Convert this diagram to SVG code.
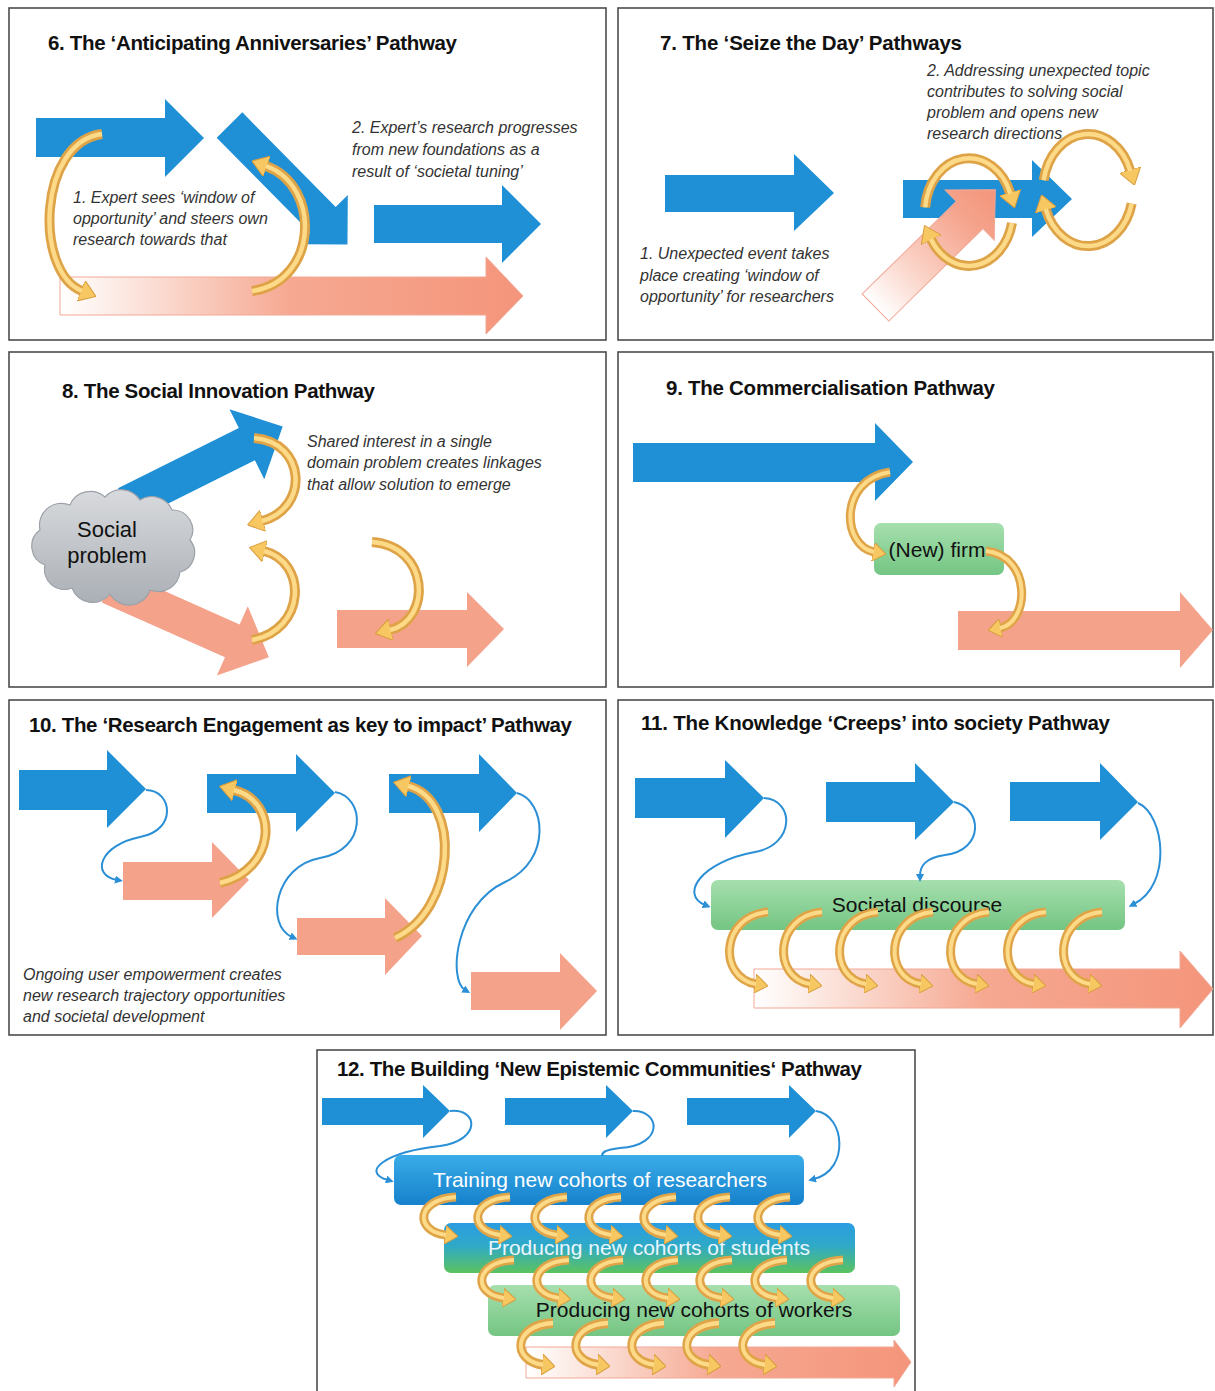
<svg xmlns="http://www.w3.org/2000/svg" width="1215" height="1391" viewBox="0 0 1215 1391">
<defs>
<style>
.panel{fill:#fff;stroke:#4d4d4d;stroke-width:1.6}
.title{font-family:"Liberation Sans",Arial,sans-serif;font-weight:bold;font-size:20.5px;fill:#111}
.note{font-family:"Liberation Sans",Arial,sans-serif;font-style:italic;font-size:16px;fill:#333}
.lbl{font-family:"Liberation Sans",Arial,sans-serif;font-size:21px;fill:#111;text-anchor:middle}
.blue{fill:#1f8fd6}
.salmon{fill:#f5a28b}
.yo{fill:none;stroke:#dfa347;stroke-width:10}
.yi{fill:none;stroke:#fdda88;stroke-width:4.5}
.yos{fill:none;stroke:#e0a448;stroke-width:9}
.yis{fill:none;stroke:#fdda88;stroke-width:4}
.bc{fill:none;stroke:#2b8fd6;stroke-width:2}
</style>
<marker id="yh" viewBox="0 0 16 22" refX="1" refY="11" markerWidth="16" markerHeight="22" markerUnits="userSpaceOnUse" orient="auto"><path d="M0,0 L16,11 L0,22 Z" fill="#f7c862" stroke="#d89c3c" stroke-width="1"/></marker>
<marker id="ys" viewBox="0 0 13 19" refX="1" refY="9.5" markerWidth="13" markerHeight="19" markerUnits="userSpaceOnUse" orient="auto"><path d="M0,0 L13,9.5 L0,19 Z" fill="#f7c862" stroke="#d89c3c" stroke-width="1"/></marker>
<marker id="bh" viewBox="0 0 8 8" refX="2" refY="4" markerWidth="8" markerHeight="8" markerUnits="userSpaceOnUse" orient="auto"><path d="M0,0 L8,4 L0,8 Z" fill="#2b8fd6"/></marker>
<linearGradient id="gSal" x1="0" y1="0" x2="1" y2="0"><stop offset="0" stop-color="#ffffff"/><stop offset="0.12" stop-color="#fcebe5"/><stop offset="0.5" stop-color="#f6a891"/><stop offset="1" stop-color="#f4957b"/></linearGradient>
<linearGradient id="gSal7" x1="0" y1="0" x2="1" y2="0"><stop offset="0" stop-color="#ffffff"/><stop offset="0.3" stop-color="#fbd6cb"/><stop offset="0.75" stop-color="#f5a38c"/><stop offset="1" stop-color="#f4957b"/></linearGradient>
<linearGradient id="gGreen" x1="0" y1="0" x2="0" y2="1"><stop offset="0" stop-color="#a6dfae"/><stop offset="1" stop-color="#74c583"/></linearGradient>
<linearGradient id="gBlue" x1="0" y1="0" x2="0" y2="1"><stop offset="0" stop-color="#3aace8"/><stop offset="1" stop-color="#1681cc"/></linearGradient>
<linearGradient id="gMix" x1="0" y1="0" x2="0" y2="1"><stop offset="0" stop-color="#2a9de2"/><stop offset="0.45" stop-color="#2fa9c8"/><stop offset="1" stop-color="#5bc35e"/></linearGradient>
<linearGradient id="gCloud" x1="0" y1="0" x2="0" y2="1"><stop offset="0" stop-color="#d8dadd"/><stop offset="1" stop-color="#aaafb5"/></linearGradient>
<g id="cA"><path class="yos" d="M0,0 C-40,2 -42,34 -10,38" marker-end="url(#ys)"/><path class="yis" d="M0,0 C-40,2 -42,34 -10,38"/></g>
<g id="cB"><path class="yos" d="M0,0 C-48,4 -50,66 -12,72" marker-end="url(#ys)"/><path class="yis" d="M0,0 C-48,4 -50,66 -12,72"/></g>
</defs>
<rect width="1215" height="1391" fill="#fff"/>

<!-- Panel 6 -->
<g id="panel6">
<rect class="panel" x="9" y="8" width="597" height="332"/>
<text class="title" x="48" y="50" textLength="409">6. The ‘Anticipating Anniversaries’ Pathway</text>
<polygon class="blue" points="36,118 165,118 165,99 204,138 165,177 165,157 36,157"/>
<polygon class="blue" transform="translate(229.5,125) rotate(45.4)" points="0,-18 133,-18 133,-35 168,0 133,35 133,18 0,18"/>
<polygon class="blue" points="374,205 502,205 502,185 541,224 502,263 502,243 374,243"/>
<polygon fill="url(#gSal)" stroke="#f2a896" stroke-width="1" points="60,277 486,277 486,257 523,296 486,334 486,315 60,315"/>
<path class="yo" d="M102,134 C38,142 34,272 82,291" marker-end="url(#yh)"/><path class="yi" d="M102,134 C38,142 34,272 82,291"/>
<path class="yo" d="M252,291 C318,282 322,186 266,166" marker-end="url(#yh)"/><path class="yi" d="M252,291 C318,282 322,186 266,166"/>
<text class="note" x="352" y="133">2. Expert’s research progresses</text>
<text class="note" x="352" y="155">from new foundations as a</text>
<text class="note" x="352" y="177">result of ‘societal tuning’</text>
<text class="note" x="73" y="203">1. Expert sees ‘window of</text>
<text class="note" x="73" y="224">opportunity’ and steers own</text>
<text class="note" x="73" y="245">research towards that</text>
</g>

<!-- Panel 7 -->
<g id="panel7">
<rect class="panel" x="618" y="8" width="595" height="332"/>
<text class="title" x="660" y="50" textLength="302">7. The ‘Seize the Day’ Pathways</text>
<polygon class="blue" points="665,175 794,175 794,154 834,193 794,231 794,212 665,212"/>
<polygon class="blue" points="903,180 1032,180 1032,160 1072,199 1032,237 1032,218 903,218"/>
<polygon fill="url(#gSal7)" stroke="#f2a896" stroke-width="1" transform="translate(875.5,307.5) rotate(-44.5)" points="0,-19 132,-19 132,-35 168,0 132,35 132,19 0,19"/>
<path class="yo" d="M925.2,207.3 A44,54 0 0 1 1010.3,193.5" marker-end="url(#yh)"/><path class="yi" d="M925.2,207.3 A44,54 0 0 1 1010.3,193.5"/>
<path class="yo" d="M1012,223 A44,54 0 0 1 930.9,239" marker-end="url(#yh)"/><path class="yi" d="M1012,223 A44,54 0 0 1 930.9,239"/>
<path class="yo" d="M1043.7,180.3 A45,56 0 0 1 1130.3,170.8" marker-end="url(#yh)"/><path class="yi" d="M1043.7,180.3 A45,56 0 0 1 1130.3,170.8"/>
<path class="yo" d="M1131.7,203.5 A45,56 0 0 1 1045.7,209.2" marker-end="url(#yh)"/><path class="yi" d="M1131.7,203.5 A45,56 0 0 1 1045.7,209.2"/>
<text class="note" x="927" y="76">2. Addressing unexpected topic</text>
<text class="note" x="927" y="97">contributes to solving social</text>
<text class="note" x="927" y="118">problem and opens new</text>
<text class="note" x="927" y="139">research directions</text>
<text class="note" x="640" y="259">1. Unexpected event takes</text>
<text class="note" x="640" y="281">place creating ‘window of</text>
<text class="note" x="640" y="302">opportunity’ for researchers</text>
</g>

<!-- Panel 8 -->
<g id="panel8">
<rect class="panel" x="9" y="352" width="597" height="335"/>
<text class="title" x="62" y="398" textLength="313">8. The Social Innovation Pathway</text>
<polygon class="blue" transform="translate(135,500) rotate(-26.5)" points="-10,-18 125,-18 125,-39 165,0 125,39 125,18 -10,18"/>
<polygon class="salmon" transform="translate(109,586) rotate(24)" points="0,-18 135,-18 135,-38 175,0 135,38 135,18 0,18"/>
<polygon class="salmon" points="337,610 467,610 467,592 504,629 467,667 467,648 337,648"/>
<g id="cloud">
<path d="M45,565 A20,20 0 0 1 40,530 A22,22 0 0 1 70,505 A22,22 0 0 1 105,497 A22,22 0 0 1 140,500 A22,22 0 0 1 172,510 A20,20 0 0 1 190,540 A20,20 0 0 1 180,572 A22,22 0 0 1 150,590 A22,22 0 0 1 110,594 A22,22 0 0 1 72,588 A20,20 0 0 1 45,565 Z" fill="url(#gCloud)" stroke="#9ca1a8" stroke-width="1.2"/>
<text x="107" y="537" font-family="'Liberation Sans',Arial,sans-serif" font-size="22" fill="#111" text-anchor="middle">Social</text>
<text x="107" y="563" font-family="'Liberation Sans',Arial,sans-serif" font-size="22" fill="#111" text-anchor="middle">problem</text>
</g>
<path class="yo" d="M254,438 C306,442 310,508 262,521" marker-end="url(#yh)"/><path class="yi" d="M254,438 C306,442 310,508 262,521"/>
<path class="yo" d="M252,640 C306,630 308,562 264,551" marker-end="url(#yh)"/><path class="yi" d="M252,640 C306,630 308,562 264,551"/>
<path class="yo" d="M372,542 C430,546 432,620 390,630" marker-end="url(#yh)"/><path class="yi" d="M372,542 C430,546 432,620 390,630"/>
<text class="note" x="307" y="447">Shared interest in a single</text>
<text class="note" x="307" y="468">domain problem creates linkages</text>
<text class="note" x="307" y="490">that allow solution to emerge</text>
</g>

<!-- Panel 9 -->
<g id="panel9">
<rect class="panel" x="618" y="352" width="595" height="335"/>
<text class="title" x="666" y="395" textLength="329">9. The Commercialisation Pathway</text>
<polygon class="blue" points="633,443 875,443 875,423 913,462 875,501 875,482 633,482"/>
<polygon class="salmon" points="958,611 1180,611 1180,592 1213,630 1180,668 1180,650 958,650"/>
<g id="newfirm">
<rect x="874" y="523" width="130" height="52" rx="7" fill="url(#gGreen)"/>
<text class="lbl" x="937" y="557">(New) firm</text>
</g>
<path class="yos" d="M890,472 C838,480 842,546 874,552" marker-end="url(#ys)"/><path class="yis" d="M890,472 C838,480 842,546 874,552"/>
<path class="yos" d="M986,551 C1032,556 1030,622 1000,628" marker-end="url(#ys)"/><path class="yis" d="M986,551 C1032,556 1030,622 1000,628"/>
</g>

<!-- Panel 10 -->
<g id="panel10">
<rect class="panel" x="9" y="700" width="597" height="335"/>
<text class="title" x="29" y="732" textLength="543">10. The ‘Research Engagement as key to impact’ Pathway</text>
<polygon class="blue" points="19,770 107,770 107,750 146,789 107,828 107,810 19,810"/>
<polygon class="blue" points="207,774 296,774 296,754 335,793 296,832 296,813 207,813"/>
<polygon class="blue" points="389,774 479,774 479,754 517,793 479,832 479,813 389,813"/>
<polygon class="salmon" points="123,862 212,862 212,842 249,880 212,918 212,900 123,900"/>
<polygon class="salmon" points="297,918 385,918 385,898 422,936 385,975 385,955 297,955"/>
<polygon class="salmon" points="471,972 560,972 560,953 597,991 560,1030 560,1010 471,1010"/>
<g id="conn10">
<path class="bc" d="M146,790 C172,790 178,830 140,837 C100,845 90,875 117,880" marker-end="url(#bh)"/>
<path class="bc" d="M335,792 C365,797 368,850 320,858 C275,866 265,925 292,937" marker-end="url(#bh)"/>
<path class="bc" d="M517,793 C545,800 553,860 505,882 C455,905 448,980 465,990" marker-end="url(#bh)"/>
</g>
<path class="yo" d="M220,883 C276,870 280,802 234,790" marker-end="url(#yh)"/><path class="yi" d="M220,883 C276,870 280,802 234,790"/>
<path class="yo" d="M395,938 C456,910 462,800 408,786" marker-end="url(#yh)"/><path class="yi" d="M395,938 C456,910 462,800 408,786"/>
<text class="note" x="23" y="980">Ongoing user empowerment creates</text>
<text class="note" x="23" y="1001">new research trajectory opportunities</text>
<text class="note" x="23" y="1022">and societal development</text>
</g>

<!-- Panel 11 -->
<g id="panel11">
<rect class="panel" x="618" y="700" width="595" height="335"/>
<text class="title" x="641" y="730" textLength="469">11. The Knowledge ‘Creeps’ into society Pathway</text>
<polygon class="blue" points="635,778 725,778 725,760 764,798 725,838 725,818 635,818"/>
<polygon class="blue" points="826,782 915,782 915,763 954,802 915,840 915,822 826,822"/>
<polygon class="blue" points="1010,782 1100,782 1100,763 1138,802 1100,840 1100,821 1010,821"/>
<polygon fill="url(#gSal)" stroke="#f2a896" stroke-width="1" points="754,969 1180,969 1180,951 1213,989 1180,1028 1180,1008 754,1008"/>
<g id="discourse">
<rect x="711" y="880" width="414" height="50" rx="7" fill="url(#gGreen)"/>
<text class="lbl" x="917" y="912">Societal discourse</text>
</g>
<g id="conn11">
<path class="bc" d="M764,798 C795,800 795,845 755,852 C700,862 680,895 705,905" marker-end="url(#bh)"/>
<path class="bc" d="M954,802 C982,808 985,850 945,855 C925,858 920,866 920,876" marker-end="url(#bh)"/>
<path class="bc" d="M1138,803 C1165,815 1172,885 1134,904" marker-end="url(#bh)"/>
</g>
<use href="#cB" x="768" y="912"/>
<use href="#cB" x="822" y="912"/>
<use href="#cB" x="878" y="912"/>
<use href="#cB" x="933" y="912"/>
<use href="#cB" x="989" y="912"/>
<use href="#cB" x="1046" y="912"/>
<use href="#cB" x="1102" y="912"/>
</g>

<!-- Panel 12 -->
<g id="panel12">
<rect class="panel" x="317" y="1050" width="598" height="360"/>
<text class="title" x="337" y="1076" textLength="525">12. The Building ‘New Epistemic Communities‘ Pathway</text>
<polygon class="blue" points="322,1098 423,1098 423,1085 450,1111 423,1138 423,1125 322,1125"/>
<polygon class="blue" points="505,1098 606,1098 606,1085 633,1111 606,1138 606,1125 505,1125"/>
<polygon class="blue" points="687,1098 789,1098 789,1085 816,1111 789,1138 789,1125 687,1125"/>
<polygon fill="url(#gSal)" stroke="#f2a896" stroke-width="1" points="526,1347 894,1347 894,1340 911,1362 894,1387 894,1378 526,1378"/>
<g id="box-researchers">
<rect x="394" y="1155" width="410" height="50" rx="7" fill="url(#gBlue)"/>
<text class="lbl" x="600" y="1187" style="fill:#fff">Training new cohorts of researchers</text>
</g>
<g id="box-students">
<rect x="444" y="1223" width="411" height="50" rx="7" fill="url(#gMix)"/>
<text class="lbl" x="649" y="1255" style="fill:#eaf6ff">Producing new cohorts of students</text>
</g>
<g id="box-workers">
<rect x="488" y="1285" width="412" height="51" rx="7" fill="url(#gGreen)"/>
<text class="lbl" x="694" y="1317">Producing new cohorts of workers</text>
</g>
<g id="conn12">
<path class="bc" d="M450,1111 C478,1108 482,1140 440,1146 C385,1152 360,1172 388,1180" marker-end="url(#bh)"/>
<path class="bc" d="M633,1111 C660,1110 665,1145 620,1148 C605,1150 602,1152 602,1156"/>
<path class="bc" d="M816,1111 C845,1115 850,1170 814,1179" marker-end="url(#bh)"/>
</g>
<use href="#cA" x="456" y="1197"/>
<use href="#cA" x="510" y="1197"/>
<use href="#cA" x="567" y="1197"/>
<use href="#cA" x="621" y="1197"/>
<use href="#cA" x="676" y="1197"/>
<use href="#cA" x="730" y="1197"/>
<use href="#cA" x="790" y="1197"/>
<use href="#cA" x="514" y="1260"/>
<use href="#cA" x="569" y="1260"/>
<use href="#cA" x="623" y="1260"/>
<use href="#cA" x="678" y="1260"/>
<use href="#cA" x="732" y="1260"/>
<use href="#cA" x="787" y="1260"/>
<use href="#cA" x="843" y="1260"/>
<use href="#cA" transform="translate(553,1323) scale(1,1.1)"/>
<use href="#cA" transform="translate(608,1323) scale(1,1.1)"/>
<use href="#cA" transform="translate(664,1323) scale(1,1.1)"/>
<use href="#cA" transform="translate(719,1323) scale(1,1.1)"/>
<use href="#cA" transform="translate(775,1323) scale(1,1.1)"/>
</g>
</svg>
